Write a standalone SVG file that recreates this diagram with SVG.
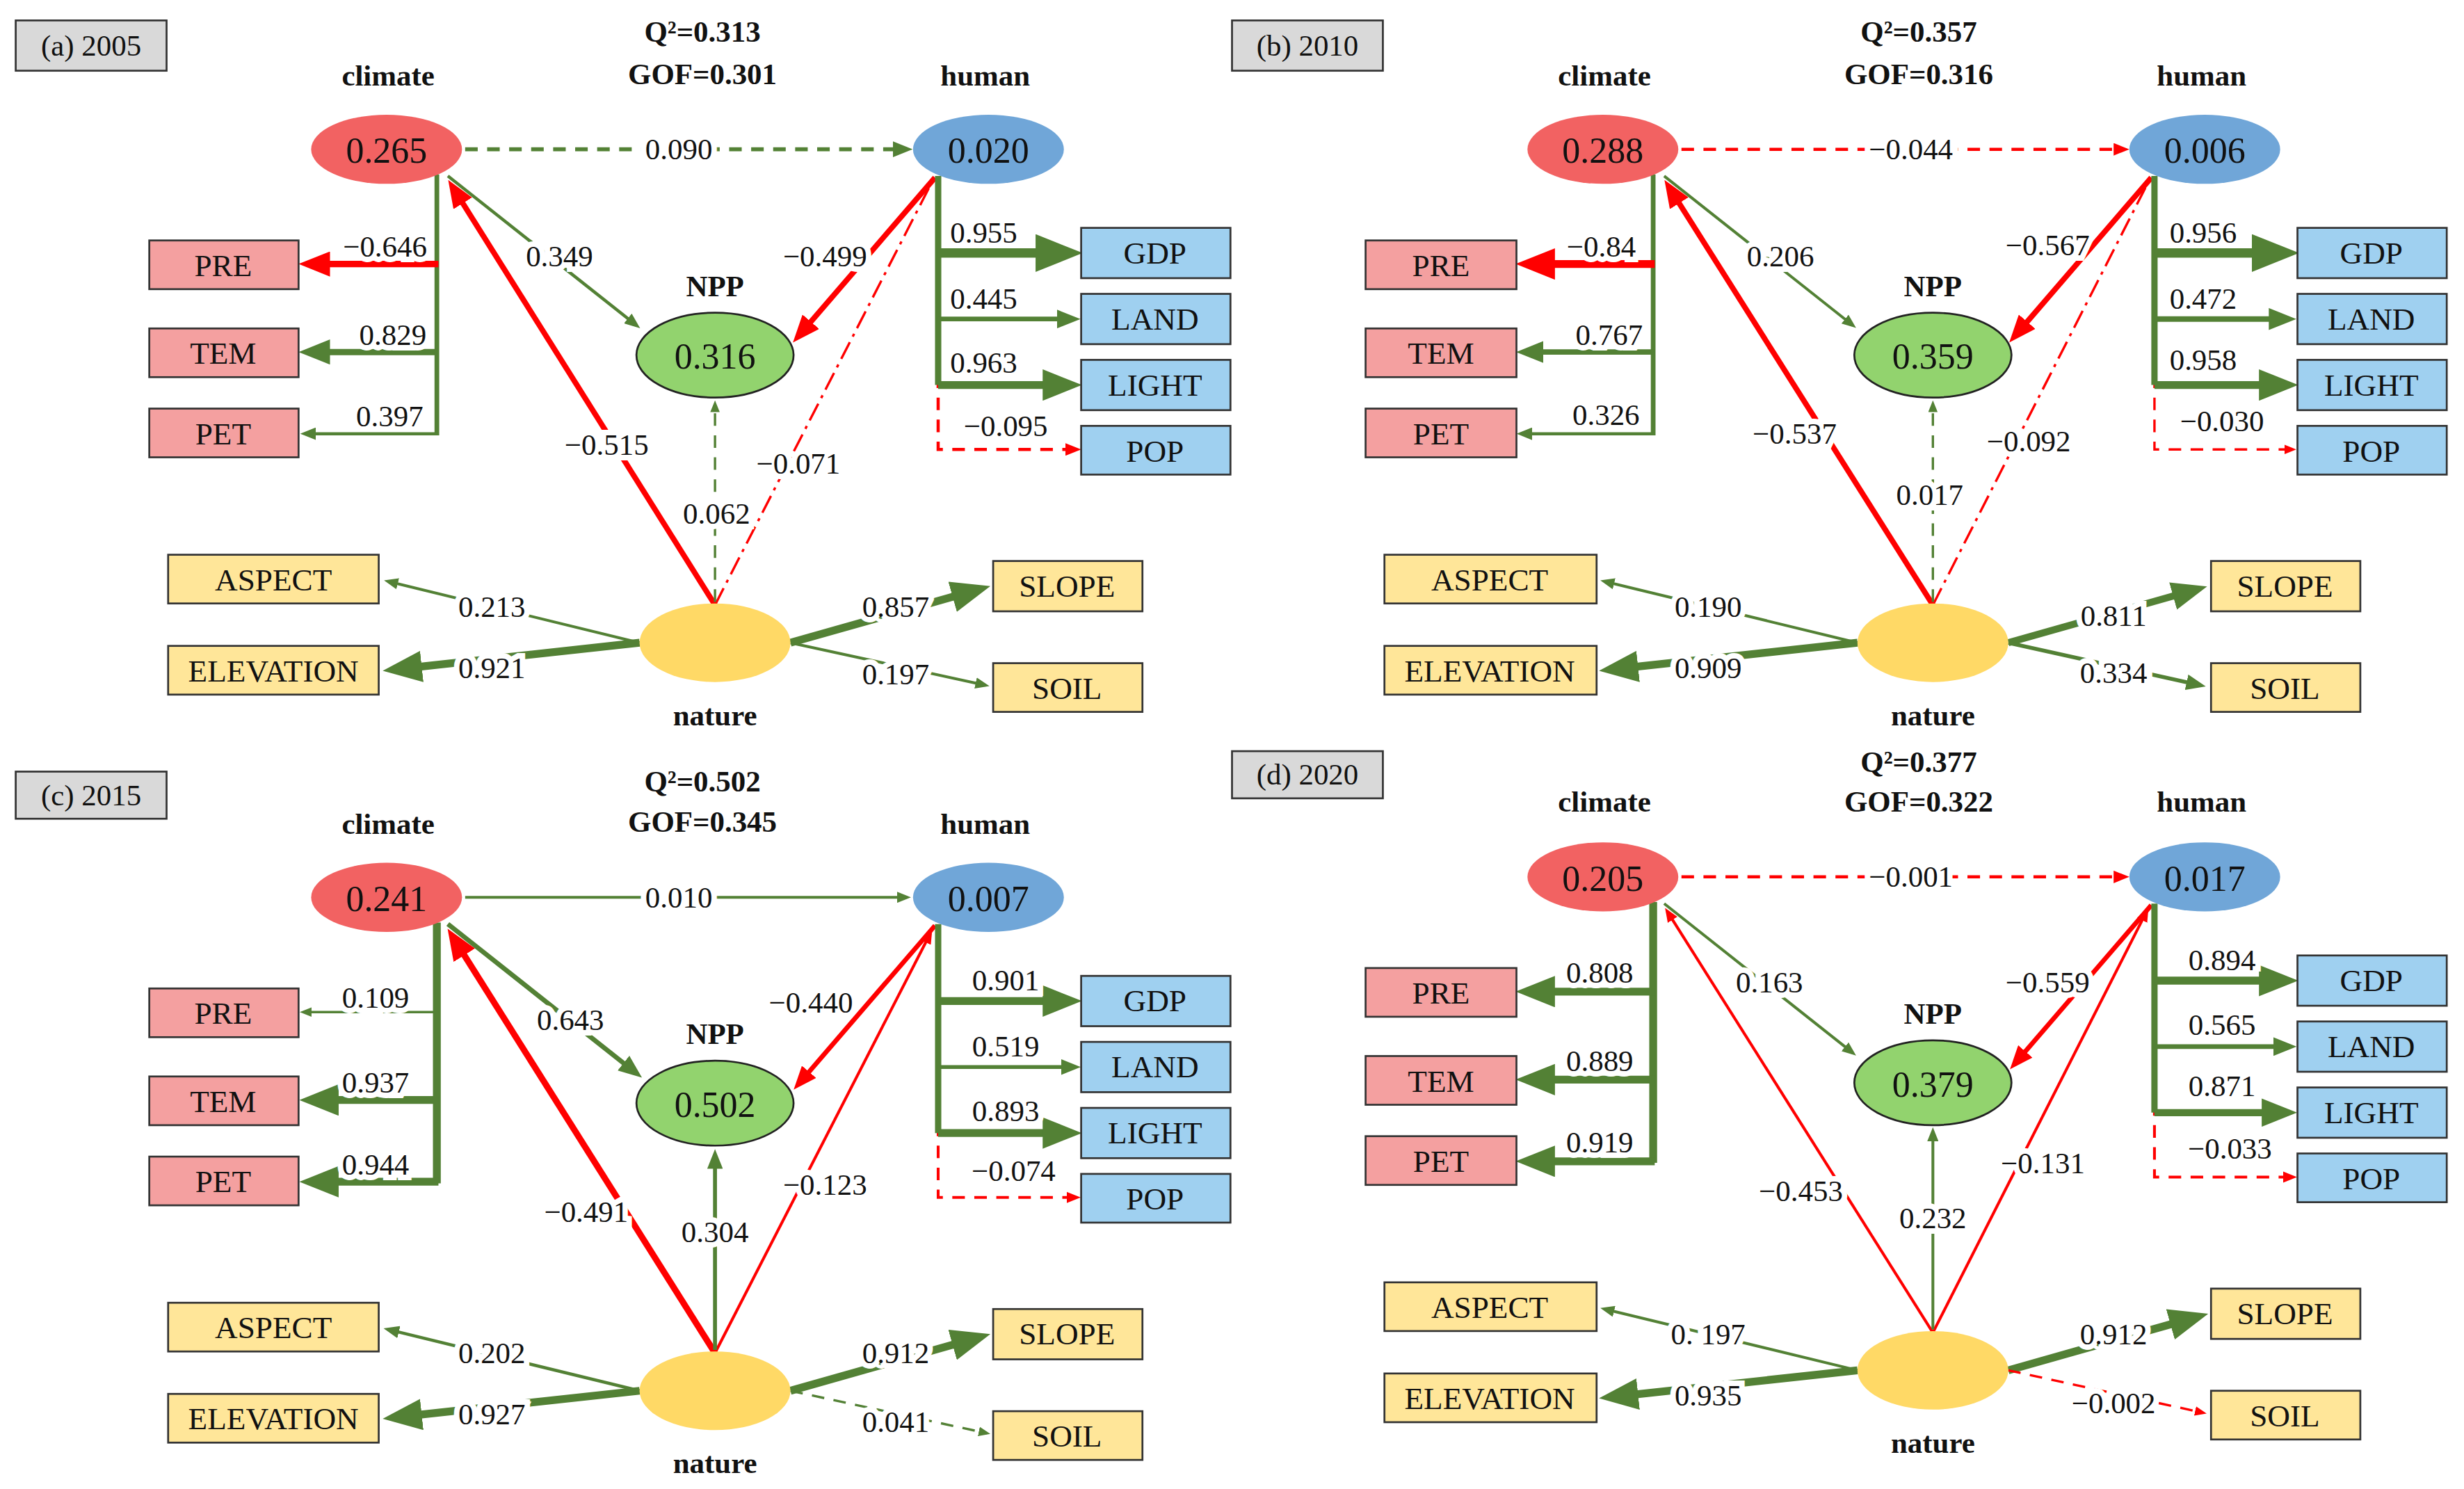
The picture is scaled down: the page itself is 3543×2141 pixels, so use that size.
<svg xmlns="http://www.w3.org/2000/svg" width="3543" height="2141" viewBox="0 0 3543 2141">
<style>
text{font-family:"Liberation Serif","DejaVu Serif",serif;text-anchor:middle;dominant-baseline:central;fill:#111}
.n{font-size:19px;stroke:#fff;stroke-width:7px;paint-order:stroke}
.v{font-size:23px}
.bx{font-size:20px}
.t{font-size:19px;font-weight:bold}
.lb{font-size:19px}
.box{stroke:#333;stroke-width:1.2}
.cl{fill:#f26262}.hu{fill:#70a6d8}.np{fill:#92d36e;stroke:#222;stroke-width:1.2}.na{fill:#ffd966}
.pb{fill:#f4a0a0}.bb{fill:#9fd0f0}.yb{fill:#ffe699}
.c line,.c path{fill:none}
.g{stroke:#538135}.r{stroke:#ff0000}
.ga{stroke:#538135;marker-end:url(#mg)}.ra{stroke:#ff0000;marker-end:url(#mr)}
.d{stroke-dasharray:8 6}.dd{stroke-dasharray:12 4 2 4}
</style>
<defs>
<marker id="mg" markerUnits="strokeWidth" markerWidth="5" markerHeight="4" refX="3.5" refY="2" orient="auto" viewBox="0 0 5 4"><polygon points="0,0 5,2 0,4" fill="#538135"/></marker>
<marker id="mr" markerUnits="strokeWidth" markerWidth="5" markerHeight="4" refX="3.5" refY="2" orient="auto" viewBox="0 0 5 4"><polygon points="0,0 5,2 0,4" fill="#ff0000"/></marker>
</defs>
<rect width="3543" height="2141" fill="#fff"/>
<g transform="scale(2.2596)" font-family="Liberation Serif, DejaVu Serif, serif">

<!-- PANEL A -->
<g id="panel-a">
<g id="a-connectors" class="c">
<line class="ga d" x1="296" y1="95" x2="577" y2="95" stroke-width="2.5"/>
<path class="g" d="M278,111 V277" stroke-width="3"/>
<line class="ra" x1="279" y1="168" x2="196" y2="168" stroke-width="4"/>
<line class="ga" x1="279" y1="224" x2="196" y2="224" stroke-width="4"/>
<line class="ga" x1="279" y1="276" x2="194" y2="276" stroke-width="2"/>
<line class="ga" x1="285" y1="112" x2="405" y2="207" stroke-width="2"/>
<line class="ra" x1="455" y1="385" x2="288" y2="119" stroke-width="3.5"/>
<line class="ra" x1="595" y1="113" x2="508" y2="214" stroke-width="3.5"/>
<line class="r dd" x1="455" y1="385" x2="594" y2="114" stroke-width="1.5"/>
<line class="ga d" x1="455" y1="383" x2="455" y2="257" stroke-width="1.5"/>
<path class="ra d" d="M597,113 V286 H685" stroke-width="2"/>
<path class="g" d="M597,112 V245" stroke-width="4"/>
<line class="ga" x1="597" y1="161" x2="680" y2="161" stroke-width="6"/>
<line class="ga" x1="597" y1="203" x2="683" y2="203" stroke-width="3"/>
<line class="ga" x1="597" y1="245" x2="681" y2="245" stroke-width="5"/>
<line class="ga" x1="407" y1="409" x2="247" y2="370" stroke-width="1.8"/>
<line class="ga" x1="407" y1="409" x2="251" y2="426" stroke-width="5"/>
<line class="ga" x1="503" y1="409" x2="623" y2="375" stroke-width="5"/>
<line class="ga" x1="503" y1="409" x2="627" y2="436" stroke-width="1.8"/>
<text class="n" x="432" y="95">0.090</text>
<text class="n" x="245" y="157">−0.646</text>
<text class="n" x="250" y="213">0.829</text>
<text class="n" x="248" y="265">0.397</text>
<text class="n" x="356" y="163">0.349</text>
<text class="n" x="386" y="283">−0.515</text>
<text class="n" x="525" y="163">−0.499</text>
<text class="n" x="508" y="295">−0.071</text>
<text class="n" x="456" y="327">0.062</text>
<text class="n" x="626" y="148">0.955</text>
<text class="n" x="626" y="190">0.445</text>
<text class="n" x="626" y="231">0.963</text>
<text class="n" x="640" y="271">−0.095</text>
<text class="n" x="313" y="386">0.213</text>
<text class="n" x="313" y="425">0.921</text>
<text class="n" x="570" y="386">0.857</text>
<text class="n" x="570" y="429">0.197</text>
</g>
<g id="a-label"><rect x="10" y="13" width="96" height="32" fill="#d9d9d9" class="box"/><text class="lb" x="58" y="29">(a) 2005</text></g>
<g id="a-fit"><text class="t" x="447" y="20">Q²=0.313</text><text class="t" x="447" y="47">GOF=0.301</text></g>
<g id="a-climate"><text class="t" x="247" y="48">climate</text><ellipse class="cl" cx="246" cy="95" rx="48" ry="22"/><text class="v" x="246" y="96">0.265</text></g>
<g id="a-human"><text class="t" x="627" y="48">human</text><ellipse class="hu" cx="629" cy="95" rx="48" ry="22"/><text class="v" x="629" y="96">0.020</text></g>
<g id="a-npp"><text class="t" x="455" y="182">NPP</text><ellipse class="np" cx="455" cy="226" rx="50" ry="27"/><text class="v" x="455" y="227">0.316</text></g>
<g id="a-nature"><ellipse class="na" cx="455" cy="409" rx="48" ry="25"/><text class="t" x="455" y="455">nature</text></g>
<g id="a-PRE"><rect class="box pb" x="95" y="153" width="95" height="31"/><text class="bx" x="142" y="169">PRE</text></g>
<g id="a-TEM"><rect class="box pb" x="95" y="209" width="95" height="31"/><text class="bx" x="142" y="225">TEM</text></g>
<g id="a-PET"><rect class="box pb" x="95" y="260" width="95" height="31"/><text class="bx" x="142" y="276">PET</text></g>
<g id="a-GDP"><rect class="box bb" x="688" y="145" width="95" height="32"/><text class="bx" x="735" y="161">GDP</text></g>
<g id="a-LAND"><rect class="box bb" x="688" y="187" width="95" height="32"/><text class="bx" x="735" y="203">LAND</text></g>
<g id="a-LIGHT"><rect class="box bb" x="688" y="229" width="95" height="32"/><text class="bx" x="735" y="245">LIGHT</text></g>
<g id="a-POP"><rect class="box bb" x="688" y="271" width="95" height="31"/><text class="bx" x="735" y="287">POP</text></g>
<g id="a-ASPECT"><rect class="box yb" x="107" y="353" width="134" height="31"/><text class="bx" x="174" y="369">ASPECT</text></g>
<g id="a-ELEVATION"><rect class="box yb" x="107" y="411" width="134" height="31"/><text class="bx" x="174" y="427">ELEVATION</text></g>
<g id="a-SLOPE"><rect class="box yb" x="632" y="357" width="95" height="32"/><text class="bx" x="679" y="373">SLOPE</text></g>
<g id="a-SOIL"><rect class="box yb" x="632" y="422" width="95" height="31"/><text class="bx" x="679" y="438">SOIL</text></g>
</g>

<!-- PANEL B -->
<g id="panel-b" transform="translate(774,0)">
<g id="b-connectors" class="c">
<line class="ra d" x1="296" y1="95" x2="578" y2="95" stroke-width="2"/>
<path class="g" d="M278,111 V277" stroke-width="3"/>
<line class="ra" x1="279" y1="168" x2="198" y2="168" stroke-width="5"/>
<line class="ga" x1="279" y1="224" x2="196" y2="224" stroke-width="3.5"/>
<line class="ga" x1="279" y1="276" x2="194" y2="276" stroke-width="2"/>
<line class="ga" x1="285" y1="112" x2="405" y2="207" stroke-width="1.8"/>
<line class="ra" x1="456" y1="385" x2="288" y2="119" stroke-width="3.5"/>
<line class="ra" x1="595" y1="113" x2="508" y2="214" stroke-width="3.5"/>
<line class="r dd" x1="456" y1="385" x2="594" y2="114" stroke-width="1.5"/>
<line class="ga d" x1="456" y1="383" x2="456" y2="257" stroke-width="1.5"/>
<path class="ra d" d="M597,113 V286 H685" stroke-width="1.5"/>
<path class="g" d="M597,112 V245" stroke-width="4"/>
<line class="ga" x1="597" y1="161" x2="680" y2="161" stroke-width="6"/>
<line class="ga" x1="597" y1="203" x2="682" y2="203" stroke-width="3.5"/>
<line class="ga" x1="597" y1="245" x2="681" y2="245" stroke-width="5"/>
<line class="ga" x1="408" y1="409" x2="247" y2="370" stroke-width="1.8"/>
<line class="ga" x1="408" y1="409" x2="251" y2="426" stroke-width="5"/>
<line class="ga" x1="504" y1="409" x2="624" y2="375" stroke-width="4.5"/>
<line class="ga" x1="504" y1="409" x2="626" y2="436" stroke-width="2.5"/>
<text class="n" x="442" y="95">−0.044</text>
<text class="n" x="245" y="157">−0.84</text>
<text class="n" x="250" y="213">0.767</text>
<text class="n" x="248" y="264">0.326</text>
<text class="n" x="359" y="163">0.206</text>
<text class="n" x="368" y="276">−0.537</text>
<text class="n" x="529" y="156">−0.567</text>
<text class="n" x="517" y="281">−0.092</text>
<text class="n" x="454" y="315">0.017</text>
<text class="n" x="628" y="148">0.956</text>
<text class="n" x="628" y="190">0.472</text>
<text class="n" x="628" y="229">0.958</text>
<text class="n" x="640" y="268">−0.030</text>
<text class="n" x="313" y="386">0.190</text>
<text class="n" x="313" y="425">0.909</text>
<text class="n" x="571" y="392">0.811</text>
<text class="n" x="571" y="428">0.334</text>
</g>
<g id="b-label"><rect x="10" y="13" width="96" height="32" fill="#d9d9d9" class="box"/><text class="lb" x="58" y="29">(b) 2010</text></g>
<g id="b-fit"><text class="t" x="447" y="20">Q²=0.357</text><text class="t" x="447" y="47">GOF=0.316</text></g>
<g id="b-climate"><text class="t" x="247" y="48">climate</text><ellipse class="cl" cx="246" cy="95" rx="48" ry="22"/><text class="v" x="246" y="96">0.288</text></g>
<g id="b-human"><text class="t" x="627" y="48">human</text><ellipse class="hu" cx="629" cy="95" rx="48" ry="22"/><text class="v" x="629" y="96">0.006</text></g>
<g id="b-npp"><text class="t" x="456" y="182">NPP</text><ellipse class="np" cx="456" cy="226" rx="50" ry="27"/><text class="v" x="456" y="227">0.359</text></g>
<g id="b-nature"><ellipse class="na" cx="456" cy="409" rx="48" ry="25"/><text class="t" x="456" y="455">nature</text></g>
<g id="b-PRE"><rect class="box pb" x="95" y="153" width="96" height="31"/><text class="bx" x="143" y="169">PRE</text></g>
<g id="b-TEM"><rect class="box pb" x="95" y="209" width="96" height="31"/><text class="bx" x="143" y="225">TEM</text></g>
<g id="b-PET"><rect class="box pb" x="95" y="260" width="96" height="31"/><text class="bx" x="143" y="276">PET</text></g>
<g id="b-GDP"><rect class="box bb" x="688" y="145" width="95" height="32"/><text class="bx" x="735" y="161">GDP</text></g>
<g id="b-LAND"><rect class="box bb" x="688" y="187" width="95" height="32"/><text class="bx" x="735" y="203">LAND</text></g>
<g id="b-LIGHT"><rect class="box bb" x="688" y="229" width="95" height="32"/><text class="bx" x="735" y="245">LIGHT</text></g>
<g id="b-POP"><rect class="box bb" x="688" y="271" width="95" height="31"/><text class="bx" x="735" y="287">POP</text></g>
<g id="b-ASPECT"><rect class="box yb" x="107" y="353" width="135" height="31"/><text class="bx" x="174" y="369">ASPECT</text></g>
<g id="b-ELEVATION"><rect class="box yb" x="107" y="411" width="135" height="31"/><text class="bx" x="174" y="427">ELEVATION</text></g>
<g id="b-SLOPE"><rect class="box yb" x="633" y="357" width="95" height="32"/><text class="bx" x="680" y="373">SLOPE</text></g>
<g id="b-SOIL"><rect class="box yb" x="633" y="422" width="95" height="31"/><text class="bx" x="680" y="438">SOIL</text></g>
</g>

<!-- PANEL C -->
<g id="panel-c" transform="translate(0,476)">
<g id="c-connectors" class="c">
<line class="ga" x1="296" y1="95" x2="577" y2="95" stroke-width="1.8"/>
<path class="g" d="M278,111 V277" stroke-width="5"/>
<line class="ga" x1="279" y1="168" x2="193" y2="168" stroke-width="1.5"/>
<line class="ga" x1="279" y1="224" x2="198" y2="224" stroke-width="5"/>
<line class="ga" x1="279" y1="276" x2="198" y2="276" stroke-width="5"/>
<line class="ga" x1="285" y1="112" x2="405" y2="207" stroke-width="3"/>
<line class="ra" x1="455" y1="385" x2="288" y2="120" stroke-width="4"/>
<line class="ra" x1="595" y1="113" x2="508" y2="214" stroke-width="3"/>
<line class="ra" x1="455" y1="385" x2="592" y2="118" stroke-width="1.8"/>
<line class="ga" x1="455" y1="383" x2="455" y2="259" stroke-width="2.5"/>
<path class="ra d" d="M597,113 V286 H685" stroke-width="1.8"/>
<path class="g" d="M597,112 V245" stroke-width="4"/>
<line class="ga" x1="597" y1="161" x2="681" y2="161" stroke-width="5"/>
<line class="ga" x1="597" y1="203" x2="684" y2="203" stroke-width="2.5"/>
<line class="ga" x1="597" y1="245" x2="681" y2="245" stroke-width="5"/>
<line class="ga" x1="407" y1="409" x2="247" y2="370" stroke-width="2"/>
<line class="ga" x1="407" y1="409" x2="251" y2="426" stroke-width="5"/>
<line class="ga" x1="503" y1="409" x2="623" y2="375" stroke-width="5"/>
<line class="ga d" x1="503" y1="409" x2="628" y2="436" stroke-width="1.5"/>
<text class="n" x="432" y="95">0.010</text>
<text class="n" x="239" y="159">0.109</text>
<text class="n" x="239" y="213">0.937</text>
<text class="n" x="239" y="265">0.944</text>
<text class="n" x="363" y="173">0.643</text>
<text class="n" x="373" y="295">−0.491</text>
<text class="n" x="516" y="162">−0.440</text>
<text class="n" x="525" y="278">−0.123</text>
<text class="n" x="455" y="308">0.304</text>
<text class="n" x="640" y="148">0.901</text>
<text class="n" x="640" y="190">0.519</text>
<text class="n" x="640" y="231">0.893</text>
<text class="n" x="645" y="269">−0.074</text>
<text class="n" x="313" y="385">0.202</text>
<text class="n" x="313" y="424">0.927</text>
<text class="n" x="570" y="385">0.912</text>
<text class="n" x="570" y="429">0.041</text>
</g>
<g id="c-label"><rect x="10" y="15" width="96" height="30" fill="#d9d9d9" class="box"/><text class="lb" x="58" y="30">(c) 2015</text></g>
<g id="c-fit"><text class="t" x="447" y="21">Q²=0.502</text><text class="t" x="447" y="47">GOF=0.345</text></g>
<g id="c-climate"><text class="t" x="247" y="48">climate</text><ellipse class="cl" cx="246" cy="95" rx="48" ry="22"/><text class="v" x="246" y="96">0.241</text></g>
<g id="c-human"><text class="t" x="627" y="48">human</text><ellipse class="hu" cx="629" cy="95" rx="48" ry="22"/><text class="v" x="629" y="96">0.007</text></g>
<g id="c-npp"><text class="t" x="455" y="182">NPP</text><ellipse class="np" cx="455" cy="226" rx="50" ry="27"/><text class="v" x="455" y="227">0.502</text></g>
<g id="c-nature"><ellipse class="na" cx="455" cy="409" rx="48" ry="25"/><text class="t" x="455" y="455">nature</text></g>
<g id="c-PRE"><rect class="box pb" x="95" y="153" width="95" height="31"/><text class="bx" x="142" y="169">PRE</text></g>
<g id="c-TEM"><rect class="box pb" x="95" y="209" width="95" height="31"/><text class="bx" x="142" y="225">TEM</text></g>
<g id="c-PET"><rect class="box pb" x="95" y="260" width="95" height="31"/><text class="bx" x="142" y="276">PET</text></g>
<g id="c-GDP"><rect class="box bb" x="688" y="145" width="95" height="32"/><text class="bx" x="735" y="161">GDP</text></g>
<g id="c-LAND"><rect class="box bb" x="688" y="187" width="95" height="32"/><text class="bx" x="735" y="203">LAND</text></g>
<g id="c-LIGHT"><rect class="box bb" x="688" y="229" width="95" height="32"/><text class="bx" x="735" y="245">LIGHT</text></g>
<g id="c-POP"><rect class="box bb" x="688" y="271" width="95" height="31"/><text class="bx" x="735" y="287">POP</text></g>
<g id="c-ASPECT"><rect class="box yb" x="107" y="353" width="134" height="31"/><text class="bx" x="174" y="369">ASPECT</text></g>
<g id="c-ELEVATION"><rect class="box yb" x="107" y="411" width="134" height="31"/><text class="bx" x="174" y="427">ELEVATION</text></g>
<g id="c-SLOPE"><rect class="box yb" x="632" y="357" width="95" height="32"/><text class="bx" x="679" y="373">SLOPE</text></g>
<g id="c-SOIL"><rect class="box yb" x="632" y="422" width="95" height="31"/><text class="bx" x="679" y="438">SOIL</text></g>
</g>

<!-- PANEL D -->
<g id="panel-d" transform="translate(774,463)">
<g id="d-connectors" class="c">
<line class="ra d" x1="296" y1="95" x2="578" y2="95" stroke-width="2"/>
<path class="g" d="M278,111 V277" stroke-width="5"/>
<line class="ga" x1="279" y1="168" x2="198" y2="168" stroke-width="5"/>
<line class="ga" x1="279" y1="224" x2="198" y2="224" stroke-width="5"/>
<line class="ga" x1="279" y1="276" x2="198" y2="276" stroke-width="5"/>
<line class="ga" x1="285" y1="112" x2="405" y2="207" stroke-width="1.8"/>
<line class="ra" x1="456" y1="385" x2="287" y2="117" stroke-width="1.8"/>
<line class="ra" x1="595" y1="113" x2="508" y2="214" stroke-width="3"/>
<line class="ra" x1="456" y1="385" x2="592" y2="117" stroke-width="1.8"/>
<line class="ga" x1="456" y1="383" x2="456" y2="257" stroke-width="1.8"/>
<path class="ra d" d="M597,113 V286 H685" stroke-width="1.8"/>
<path class="g" d="M597,112 V245" stroke-width="4"/>
<line class="ga" x1="597" y1="161" x2="681" y2="161" stroke-width="5"/>
<line class="ga" x1="597" y1="203" x2="683" y2="203" stroke-width="3"/>
<line class="ga" x1="597" y1="245" x2="681" y2="245" stroke-width="4.5"/>
<line class="ga" x1="408" y1="409" x2="247" y2="370" stroke-width="1.8"/>
<line class="ga" x1="408" y1="409" x2="251" y2="426" stroke-width="5"/>
<line class="ga" x1="504" y1="409" x2="624" y2="375" stroke-width="5"/>
<line class="ra d" x1="504" y1="409" x2="628" y2="436" stroke-width="1.5"/>
<text class="n" x="442" y="95">−0.001</text>
<text class="n" x="244" y="156">0.808</text>
<text class="n" x="244" y="212">0.889</text>
<text class="n" x="244" y="264">0.919</text>
<text class="n" x="352" y="162">0.163</text>
<text class="n" x="372" y="295">−0.453</text>
<text class="n" x="529" y="162">−0.559</text>
<text class="n" x="526" y="277">−0.131</text>
<text class="n" x="456" y="312">0.232</text>
<text class="n" x="640" y="148">0.894</text>
<text class="n" x="640" y="189">0.565</text>
<text class="n" x="640" y="228">0.871</text>
<text class="n" x="645" y="268">−0.033</text>
<text class="n" x="313" y="386">0. 197</text>
<text class="n" x="313" y="425">0.935</text>
<text class="n" x="571" y="386">0.912</text>
<text class="n" x="571" y="430">−0.002</text>
</g>
<g id="d-label"><rect x="10" y="15" width="96" height="30" fill="#d9d9d9" class="box"/><text class="lb" x="58" y="30">(d) 2020</text></g>
<g id="d-fit"><text class="t" x="447" y="22">Q²=0.377</text><text class="t" x="447" y="47">GOF=0.322</text></g>
<g id="d-climate"><text class="t" x="247" y="47">climate</text><ellipse class="cl" cx="246" cy="95" rx="48" ry="22"/><text class="v" x="246" y="96">0.205</text></g>
<g id="d-human"><text class="t" x="627" y="47">human</text><ellipse class="hu" cx="629" cy="95" rx="48" ry="22"/><text class="v" x="629" y="96">0.017</text></g>
<g id="d-npp"><text class="t" x="456" y="182">NPP</text><ellipse class="np" cx="456" cy="226" rx="50" ry="27"/><text class="v" x="456" y="227">0.379</text></g>
<g id="d-nature"><ellipse class="na" cx="456" cy="409" rx="48" ry="25"/><text class="t" x="456" y="455">nature</text></g>
<g id="d-PRE"><rect class="box pb" x="95" y="153" width="96" height="31"/><text class="bx" x="143" y="169">PRE</text></g>
<g id="d-TEM"><rect class="box pb" x="95" y="209" width="96" height="31"/><text class="bx" x="143" y="225">TEM</text></g>
<g id="d-PET"><rect class="box pb" x="95" y="260" width="96" height="31"/><text class="bx" x="143" y="276">PET</text></g>
<g id="d-GDP"><rect class="box bb" x="688" y="145" width="95" height="32"/><text class="bx" x="735" y="161">GDP</text></g>
<g id="d-LAND"><rect class="box bb" x="688" y="187" width="95" height="32"/><text class="bx" x="735" y="203">LAND</text></g>
<g id="d-LIGHT"><rect class="box bb" x="688" y="229" width="95" height="32"/><text class="bx" x="735" y="245">LIGHT</text></g>
<g id="d-POP"><rect class="box bb" x="688" y="271" width="95" height="31"/><text class="bx" x="735" y="287">POP</text></g>
<g id="d-ASPECT"><rect class="box yb" x="107" y="353" width="135" height="31"/><text class="bx" x="174" y="369">ASPECT</text></g>
<g id="d-ELEVATION"><rect class="box yb" x="107" y="411" width="135" height="31"/><text class="bx" x="174" y="427">ELEVATION</text></g>
<g id="d-SLOPE"><rect class="box yb" x="633" y="357" width="95" height="32"/><text class="bx" x="680" y="373">SLOPE</text></g>
<g id="d-SOIL"><rect class="box yb" x="633" y="422" width="95" height="31"/><text class="bx" x="680" y="438">SOIL</text></g>
</g>
</g>
</svg>
